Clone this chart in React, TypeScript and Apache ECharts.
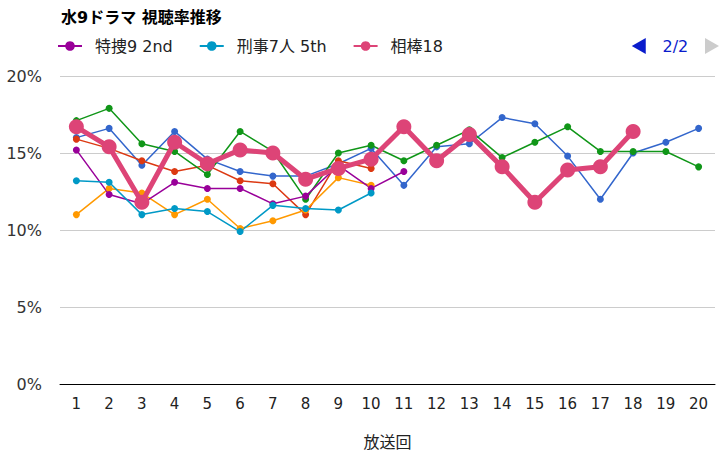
import React, { useEffect, useRef } from "react";
import * as echarts from "echarts";

const episodes = ["1","2","3","4","5","6","7","8","9","10","11","12","13","14","15","16","17","18","19","20"];
const seriesNames = ["相棒16", "特捜9", "刑事7人 4th", "相棒17", "特捜9 2nd", "刑事7人 5th", "相棒18"];
const colors = ["#3366cc", "#dc3912", "#ff9900", "#109618", "#990099", "#0099c6", "#dd4477"];

const aibou16 = [16.0, 16.6, 14.2, 16.4, 14.6, 13.8, 13.5, 13.5, 14.3, 15.3, 12.9, 15.4, 15.6, 17.3, 16.9, 14.8, 12.0, 15.0, 15.7, 16.6];
const tokusou9 = [15.9, 15.3, 14.5, 13.8, 14.2, 13.2, 13.0, 11.0, 14.5, 14.0];
const keiji7_4 = [11.0, 12.7, 12.4, 11.0, 12.0, 10.1, 10.6, 11.3, 13.4, 12.9];
const aibou17 = [17.1, 17.9, 15.6, 15.1, 13.6, 16.4, 15.1, 12.0, 15.0, 15.5, 14.5, 15.5, 16.5, 14.7, 15.7, 16.7, 15.1, 15.1, 15.1, 14.1];
const tokusou9_2 = [15.2, 12.3, 11.7, 13.1, 12.7, 12.7, 11.7, 12.2, 14.2, 12.7, 13.8];
const keiji7_5 = [13.2, 13.1, 11.0, 11.4, 11.2, 9.9, 11.6, 11.4, 11.3, 12.4];
const aibou18 = [16.7, 15.4, 11.8, 15.7, 14.3, 15.2, 15.0, 13.3, 14.0, 14.6, 16.7, 14.5, 16.2, 14.1, 11.8, 13.9, 14.1, 16.4];

const allData = [aibou16, tokusou9, keiji7_4, aibou17, tokusou9_2, keiji7_5, aibou18];

const FONT = "'DejaVu Sans', 'Noto Sans CJK JP', sans-serif";

export default function App() {
  const ref = useRef<HTMLDivElement>(null);
  useEffect(() => {
    if (!ref.current) return;
    const chart = echarts.init(ref.current, null, { renderer: "svg" });
    const series = allData.map((d, i) => {
      const main = i === allData.length - 1;
      return {
        name: seriesNames[i],
        type: "line",
        data: d,
        symbol: "circle",
        symbolSize: main ? 15 : 7,
        showSymbol: true,
        lineStyle: { width: main ? 5 : 1.5, color: colors[i] },
        itemStyle: { color: colors[i] },
        z: main ? 5 : 2,
      };
    });
    chart.setOption({
      animation: false,
      textStyle: { fontFamily: FONT },
      title: {
        text: "水9ドラマ 視聴率推移",
        left: 56,
        top: 4,
        textStyle: { fontSize: 16, fontWeight: "bold", color: "#000", fontFamily: FONT },
      },
      legend: {
        type: "scroll",
        left: 52,
        right: 11,
        top: 33,
        itemGap: 26,
        itemWidth: 24,
        itemHeight: 12,
        scrollDataIndex: 4,
        pageButtonPosition: "end",
        pageButtonItemGap: 8,
        pageIcons: {
          horizontal: ["path://M14,0L0,8L14,16z", "path://M0,0L14,8L0,16z"],
        },
        pageIconColor: "#0a1ccc",
        pageIconInactiveColor: "#cccccc",
        pageIconSize: [14, 16],
        pageTextStyle: { color: "#0a1ccc", fontSize: 16, fontFamily: FONT },
        pageFormatter: "{current}/{total}",
        textStyle: { fontSize: 16, color: "#222", fontFamily: FONT, padding: [0, 0, 0, 8] },
        data: seriesNames,
      },
      grid: { left: 60, right: 9, top: 76, bottom: 79, containLabel: false },
      xAxis: {
        type: "category",
        data: episodes,
        boundaryGap: true,
        name: "放送回",
        nameLocation: "middle",
        nameGap: 50,
        nameTextStyle: { fontSize: 16, color: "#222", fontFamily: FONT },
        axisLine: { lineStyle: { color: "#000", width: 1 } },
        axisTick: { show: false },
        axisLabel: { fontSize: 15, color: "#222", margin: 12, fontFamily: FONT },
      },
      yAxis: {
        type: "value",
        min: 0,
        max: 20,
        interval: 5,
        axisLine: { show: false },
        axisTick: { show: false },
        axisLabel: { formatter: "{value}%", fontSize: 16, color: "#333", margin: 18, fontFamily: FONT },
        splitLine: { lineStyle: { color: "#cccccc", width: 1 } },
      },
      series,
    });
    return () => chart.dispose();
  }, []);
  return (
    <div
      ref={ref}
      style={{ position: "fixed", left: 0, top: 0, width: 724, height: 463, background: "#fff" }}
    />
  );
}
